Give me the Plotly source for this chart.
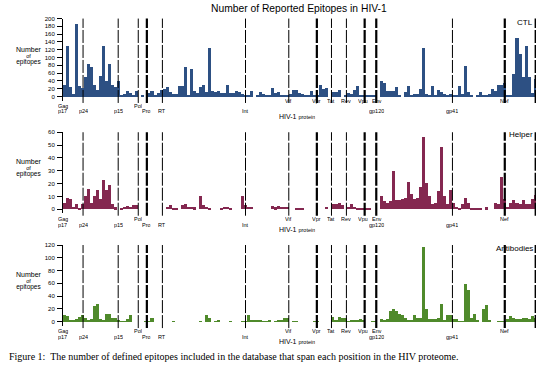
import plotly.graph_objects as go

# ---------------- data ----------------
BIN = 20  # amino acids per bin along the concatenated HIV-1 proteome
ctl = [30,130,25,8,188,27,22,50,84,78,
       30,18,53,130,40,85,30,25,40,4,
       7,15,9,6,15,0,4,0,10,16,
       4,10,17,20,25,12,7,8,28,27,
       77,6,72,15,10,25,30,14,125,16,
       14,15,10,10,30,10,9,15,12,8,
       3,4,15,0,6,14,8,6,4,24,
       10,14,4,6,6,8,18,18,10,7,
       5,3,15,6,6,30,20,23,0,12,
       14,18,0,4,10,8,18,28,5,4,
       4,5,4,4,0,40,35,15,15,15,
       25,4,0,14,28,6,8,8,20,125,
       7,6,29,3,19,14,8,6,8,6,
       6,28,8,80,14,5,0,6,13,3,
       4,8,21,15,30,30,35,6,6,60,
       150,110,50,130,50,10,45]
helper = [5,9,8,2,4,1,4,10,16,5,
          10,15,8,23,15,19,4,1.5,0,1,
          2,2.5,2,3,3,0,0,0,0,0,
          0,0,0,0,2,3,1,1,0,3,
          4,2,2,1.5,0,10,3,2,1,0,
          0,0,1,2,2,1,0,0,0,10,
          3,2,2,0,0,0,0,0,0,2.5,
          1.5,2.5,2,2,2,0,0,1,1,1,
          0,0,0,0,0,0,0,2,0,4,
          4,5,3,0,2,4,2,1,1,1,
          1,1,0,0,0,10,6,5,6,30,
          7,7,7.5,9,21,12,7.5,9,17,56,
          20,10,4,5,14,48,10,4,15,5,
          2,1,4,9,5,1,1,1,1,0,
          1.5,0,0,5,4,25,8,2,5,7,
          5,4,7,4,4,8,11]
antibodies = [10,9,3,3,4,7,10,6,3,4,
              25,27,4,3,12,12,5,6,2,1,
              1,4,11,0,0,0,0,1,1,5,
              0,0,0,0,0,0,1,0,0,0,
              0,0,0,0,0,1,0,10,5,0,
              1,2,0,0,0,1,0,0,0,1,
              1,10,3,2,2,2,1,1,2,0,
              1,2,3,5,6,0,1,1,0,0,
              0,0,0,1,1,0,0,0,0,8,
              2,8,6,6,1,2,2,3,4,3,
              0,0,1,1,0,4,2,4,17,20,
              16,12,11,6,2,3,10,5,5,117,
              20,4,4,4,5,27,2,11,11,4,
              4,1,1,59,50,5,12,2,0,20,
              26,2,0,0,1,1,1,4,9,6,
              4,4,5,5,4,9,5]
bin_centers = [i * BIN + BIN / 2 for i in range(len(ctl))]
PROTEOME_LEN = 3136

boundary_pos = [133, 366, 499, 556, 659, 1210, 1497, 1683, 1780, 1879, 2000, 2077, 2582, 2929, 3134]
boundary_thick = [False, False, False, True, False, False, False, True, False, False, True, True, False, True, True]

protein_names = ["Gag", "Pol", "Vif", "Vpr", "Tat", "Rev", "Vpu", "Env", "Nef"]
protein_pos = [0, 499, 1497, 1683, 1780, 1879, 1990, 2082, 2929]
sub_names = ["p17", "p24", "p15", "Pro", "RT", "Int", "gp120", "gp41"]
sub_pos = [0, 133, 366, 556, 659, 1210, 2077, 2582]

panel_names = ["CTL", "Helper", "Antibodies"]
panel_values = [ctl, helper, antibodies]
panel_colors = ["#2d5083", "#842850", "#4f8a2b"]
panel_ymax = [200, 60, 120]
panel_dtick = [20, 10, 20]

# ---------------- layout geometry (pixels) ----------------
W, H = 552, 371
X0, X1 = 63, 536
panel_top_px = [15.7, 130.3, 244.0]
panel_zero_px = [94.3, 208.0, 321.3]
below_px = 4.0  # axis extends a little below zero
main_dy = [[10, 4.7], [10, 10], [9.7, 9.7]]   # (Gag/Pol row, other proteins row)
sub_dy = [14.9, 16.8, 16.4]
label_y_px = [20, 133, 247]

def fy(px):
    return 1 - px / H

def fx(px):
    return px / W

fig = go.Figure()
layout = dict(
    width=W, height=H, autosize=False,
    margin=dict(l=0, r=0, t=0, b=0),
    paper_bgcolor="white", plot_bgcolor="white",
    showlegend=False, bargap=0,
    font=dict(family="Liberation Sans", color="black"),
)
shapes = []
annotations = []

ytitle = ("<span style='font-size:7px'>Number</span><br>"
          "<span style='font-size:5.5px'>of</span><br>"
          "<span style='font-size:6.5px'>epitopes</span>")

for k in range(3):
    n = "" if k == 0 else str(k + 1)
    top, zero = panel_top_px[k], panel_zero_px[k]
    ppu = (zero - top) / panel_ymax[k]
    ymin = -below_px / ppu
    bottom = zero + below_px
    fig.add_trace(go.Bar(
        x=bin_centers, y=panel_values[k], width=BIN,
        marker=dict(color=panel_colors[k], line=dict(width=0)),
        xaxis="x" + n, yaxis="y" + n, hoverinfo="skip",
    ))
    layout["xaxis" + n] = dict(
        domain=[fx(X0), fx(X1)], range=[0, PROTEOME_LEN], anchor="y" + n,
        showline=False, showticklabels=False, ticks="", showgrid=False, zeroline=False,
    )
    layout["yaxis" + n] = dict(
        domain=[fy(bottom), fy(top)], range=[ymin, panel_ymax[k]], anchor="x" + n,
        showline=True, linecolor="black", linewidth=1,
        ticks="outside", ticklen=5, tickwidth=1, tickcolor="black",
        tick0=0, dtick=panel_dtick[k], tickfont=dict(size=6, family="Liberation Sans"),
        showgrid=False, zeroline=False, ticklabelstandoff=1,
    )
    for pos, thick in zip(boundary_pos, boundary_thick):
        shapes.append(dict(
            type="line", xref="x" + n, yref="y" + n + " domain",
            x0=pos, x1=pos, y0=-0.03, y1=1, layer="above",
            line=dict(color="black", width=2.2 if thick else 1, dash="13px,2px"),
        ))
    # protein labels
    for name, pos in zip(protein_names, protein_pos):
        dy = main_dy[k][0] if name in ("Gag", "Pol") else main_dy[k][1]
        annotations.append(dict(
            text=name, x=pos, xref="x" + n, y=fy(zero + dy), yref="paper",
            xanchor="center", yanchor="middle", showarrow=False, height=6.6,
            font=dict(size=5.5, family="Liberation Sans"),
        ))
    for name, pos in zip(sub_names, sub_pos):
        annotations.append(dict(
            text=name, x=pos, xref="x" + n, y=fy(zero + sub_dy[k]), yref="paper",
            xanchor="center", yanchor="middle", showarrow=False, height=6.6,
            font=dict(size=5.5, family="Liberation Sans"),
        ))
    annotations.append(dict(
        text="HIV-1 <span style='font-size:5.5px'>protein</span>",
        x=fx(277), xref="paper", y=fy(zero + 19.7), yref="paper",
        xanchor="left", yanchor="middle", showarrow=False, height=8,
        font=dict(size=7, family="Liberation Sans"),
    ))
    # y axis title (one stacked text)
    annotations.append(dict(
        text=ytitle, x=fx(28.5), xref="paper", y=fy(zero - 41.3), yref="paper",
        xanchor="center", yanchor="middle", align="center", showarrow=False,
        font=dict(size=4.6, family="Liberation Sans"),
    ))
    # panel name
    annotations.append(dict(
        text=panel_names[k], x=fx(535), xref="paper", y=fy(label_y_px[k]), yref="paper",
        xanchor="right", yanchor="middle", showarrow=False,
        font=dict(size=8, family="Liberation Sans"),
    ))

annotations.append(dict(
    text="Number of Reported Epitopes in HIV-1", x=fx(299), xref="paper",
    y=fy(6), yref="paper", xanchor="center", yanchor="middle", showarrow=False,
    font=dict(size=10.3, family="Liberation Sans"),
))
annotations.append(dict(
    text="Figure 1:  The number of defined epitopes included in the database that span each position in the HIV proteome.",
    x=fx(7), xref="paper", y=fy(356.5), yref="paper", xanchor="left", yanchor="middle",
    showarrow=False, font=dict(size=10, family="Liberation Serif"),
))

layout["shapes"] = shapes
layout["annotations"] = annotations
fig.update_layout(**layout)
fig.write_html(
    "out.html",
    config={"displayModeBar": False},
    post_script="document.body.style.margin='0';document.body.style.overflow='hidden';",
)
